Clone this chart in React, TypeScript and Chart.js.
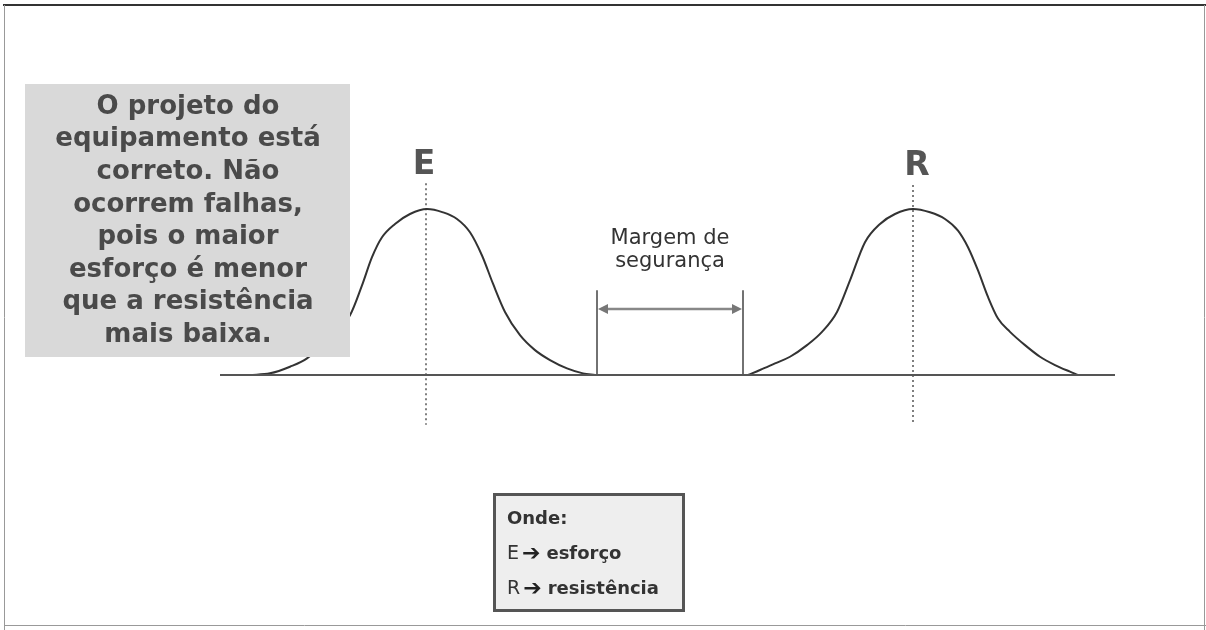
import React, { useEffect, useRef } from "react";
import { Chart, registerables } from "chart.js";

Chart.register(...registerables);

// Horizontal axis in arbitrary magnitude units, vertical axis in % of peak density.
const eCurveX = [25, 27, 29, 30.7, 33, 35, 36.2, 37.2, 38.2, 39.5, 41, 42.7, 44.3, 45.7, 47, 48.2, 49.3, 50.5, 52, 53.5, 55, 56.7, 58.3, 59.5];
const eCurveY = [0, 1, 5, 10, 23, 36, 54, 71, 83, 91, 97, 100, 98, 94, 86, 72, 55, 38, 24, 15, 9, 4, 1, 0];
const rCurveX = [74.8, 76, 77.5, 79, 80.7, 82.2, 83.7, 85, 86.5, 88, 89.5, 91.3, 93, 94.5, 95.8, 96.8, 97.8, 98.8, 99.8, 101, 102.5, 104, 105.5, 107, 107.8];
const rCurveY = [0, 3, 7, 11, 18, 26, 38, 57, 80, 91, 97, 100, 98, 94, 87, 77, 63, 47, 34, 26, 18, 11, 6, 2, 0];

const meanE = 42.6;
const meanR = 91.3;
const marginStart = 59.7;
const marginEnd = 74.3;
const marginHeight = 51;
const arrowLevel = 39.8;
const axisStart = 22;
const axisEnd = 111.5;
const meanLineTop = [115.5, 114.5];
const meanLineBottom = -30;

const curveLabels = ["E", "R"];
const marginLabel = ["Margem de", "segurança"];
const noteLines = [
  "O projeto do",
  "equipamento está",
  "correto. Não",
  "ocorrem falhas,",
  "pois o maior",
  "esforço é menor",
  "que a resistência",
  "mais baixa.",
];
const legendTitle = "Onde:";
const legendKeys = ["E", "R"];
const legendNames = ["esforço", "resistência"];

const toPoints = (xs: number[], ys: number[]) => xs.map((x, i) => ({ x, y: ys[i] }));

const overlay = {
  id: "overlay",
  afterDatasetsDraw(chart: any) {
    const ctx = chart.ctx as CanvasRenderingContext2D;
    const xs = chart.scales.x;
    const ys = chart.scales.y;
    ctx.save();

    // arrowheads for the safety-margin span
    const ay = ys.getPixelForValue(arrowLevel);
    const a1 = xs.getPixelForValue(marginStart);
    const a2 = xs.getPixelForValue(marginEnd);
    ctx.fillStyle = "#777";
    ctx.beginPath();
    ctx.moveTo(a1 + 1, ay);
    ctx.lineTo(a1 + 11, ay - 5);
    ctx.lineTo(a1 + 11, ay + 5);
    ctx.closePath();
    ctx.fill();
    ctx.beginPath();
    ctx.moveTo(a2 - 1, ay);
    ctx.lineTo(a2 - 11, ay - 5);
    ctx.lineTo(a2 - 11, ay + 5);
    ctx.closePath();
    ctx.fill();

    // curve names
    ctx.fillStyle = "#555";
    ctx.font = 'bold 33px "DejaVu Sans"';
    ctx.textAlign = "center";
    ctx.textBaseline = "middle";
    ctx.fillText(curveLabels[0], xs.getPixelForValue(meanE) - 2, 165);
    ctx.fillText(curveLabels[1], xs.getPixelForValue(meanR) + 4, 166);

    // margin caption
    ctx.fillStyle = "#333";
    ctx.font = '21px "DejaVu Sans"';
    const mx = (a1 + a2) / 2;
    ctx.fillText(marginLabel[0], mx, 239);
    ctx.fillText(marginLabel[1], mx, 262);

    // note box on the left
    ctx.fillStyle = "#d9d9d9";
    ctx.fillRect(25, 84, 325, 273);
    ctx.fillStyle = "#4a4a4a";
    ctx.font = 'bold 26px "DejaVu Sans"';
    noteLines.forEach((line, i) => {
      ctx.fillText(line, 188, 107 + i * 32.6);
    });

    // legend box
    ctx.fillStyle = "#eeeeee";
    ctx.fillRect(493, 493, 192, 119);
    ctx.strokeStyle = "#555";
    ctx.lineWidth = 3;
    ctx.strokeRect(494.5, 494.5, 189, 116);
    ctx.textAlign = "left";
    ctx.fillStyle = "#333";
    ctx.font = 'bold 18px "DejaVu Sans"';
    ctx.fillText(legendTitle, 507, 519);
    legendKeys.forEach((k, i) => {
      const y = 554 + i * 35;
      let x = 507;
      ctx.font = '19px "DejaVu Sans"';
      ctx.fillStyle = "#333";
      ctx.fillText(k, x, y);
      x += ctx.measureText(k).width + 3;
      ctx.font = 'bold 22px "DejaVu Sans"';
      ctx.fillStyle = "#222";
      ctx.fillText("➔", x, y);
      x += ctx.measureText("➔").width + 6;
      ctx.font = 'bold 18px "DejaVu Sans"';
      ctx.fillStyle = "#333";
      ctx.fillText(legendNames[i], x, y);
    });

    // page frame
    ctx.strokeStyle = "#333";
    ctx.lineWidth = 2;
    ctx.beginPath();
    ctx.moveTo(3, 5);
    ctx.lineTo(1206, 5);
    ctx.stroke();
    ctx.strokeStyle = "#999";
    ctx.lineWidth = 1;
    ctx.beginPath();
    ctx.moveTo(4.5, 5);
    ctx.lineTo(4.5, 630);
    ctx.moveTo(4, 625.5);
    ctx.lineTo(1206, 625.5);
    ctx.moveTo(1204.5, 5);
    ctx.lineTo(1204.5, 630);
    ctx.stroke();

    ctx.restore();
  },
};

export default function App() {
  const ref = useRef<HTMLCanvasElement>(null);

  useEffect(() => {
    if (!ref.current) return;
    const line = (data: { x: number; y: number }[], extra: any = {}) => ({
      data,
      borderColor: "#333",
      borderWidth: 2,
      pointRadius: 0,
      fill: false,
      ...extra,
    });
    const chart = new Chart(ref.current, {
      type: "line",
      data: {
        datasets: [
          line([{ x: axisStart, y: 0 }, { x: axisEnd, y: 0 }], { borderColor: "#555" }),
          line(toPoints(eCurveX, eCurveY), { cubicInterpolationMode: "monotone" }),
          line(toPoints(rCurveX, rCurveY), { cubicInterpolationMode: "monotone" }),
          line([{ x: meanE, y: meanLineTop[0] }, { x: meanE, y: meanLineBottom }], {
            borderColor: "#555", borderWidth: 1.5, borderDash: [2, 3],
          }),
          line([{ x: meanR, y: meanLineTop[1] }, { x: meanR, y: meanLineBottom }], {
            borderColor: "#555", borderWidth: 1.5, borderDash: [2, 3],
          }),
          line([{ x: marginStart, y: marginHeight }, { x: marginStart, y: 0 }], {
            borderColor: "#444", borderWidth: 1.5,
          }),
          line([{ x: marginEnd, y: marginHeight }, { x: marginEnd, y: 0 }], {
            borderColor: "#444", borderWidth: 1.5,
          }),
          line([{ x: marginStart + 0.8, y: arrowLevel }, { x: marginEnd - 0.8, y: arrowLevel }], {
            borderColor: "#888", borderWidth: 2.5,
          }),
        ],
      },
      options: {
        animation: false,
        responsive: true,
        maintainAspectRatio: false,
        layout: { padding: 0 },
        plugins: { legend: { display: false }, tooltip: { enabled: false } },
        scales: {
          x: { type: "linear", min: 0, max: 120.6, display: false },
          y: { type: "linear", min: -153.6, max: 225.9, display: false },
        },
      },
      plugins: [overlay],
    });
    return () => chart.destroy();
  }, []);

  return (
    <div style={{ position: "fixed", left: 0, top: 0, width: 1206, height: 630, background: "#fff" }}>
      <canvas ref={ref} />
    </div>
  );
}
